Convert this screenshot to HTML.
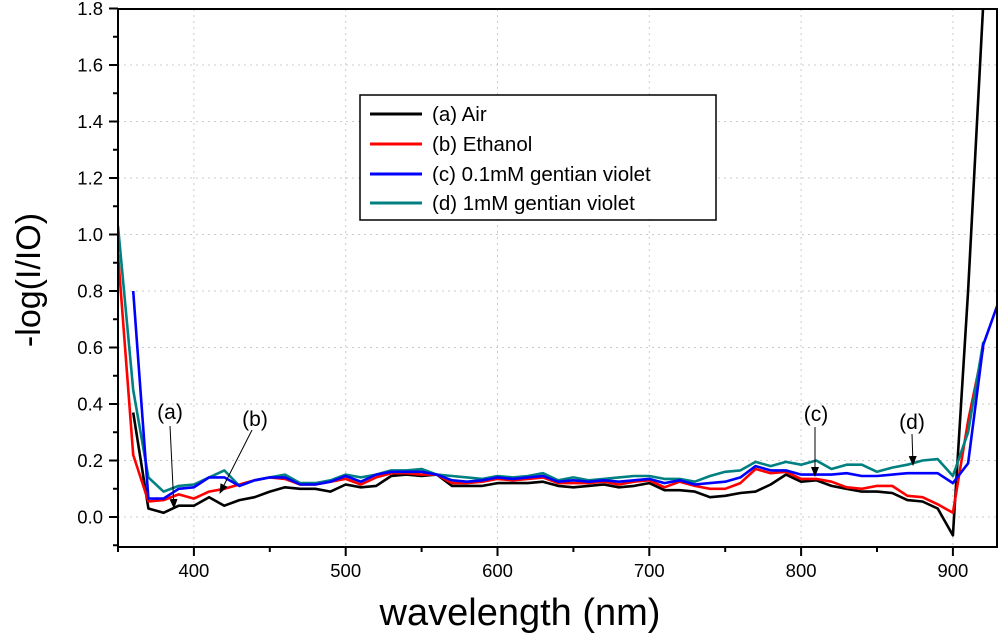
<!DOCTYPE html>
<html><head><meta charset="utf-8"><style>
body{margin:0;background:#fff}
svg{display:block;font-family:"Liberation Sans",Arial,sans-serif}
</style></head><body>
<svg id="chart" width="1000" height="641" viewBox="0 0 1000 641">
<defs><marker id="ah" markerWidth="10" markerHeight="10" refX="9" refY="5" orient="auto" markerUnits="userSpaceOnUse"><path d="M0,1 L10,5 L0,9 z" fill="#000"/></marker></defs>
<g id="grid"></g>
<g id="series"></g>
<g id="axes"></g>
<text x="520" y="625" font-size="38" text-anchor="middle">wavelength (nm)</text>
<text transform="translate(40,280) rotate(-90)" font-size="34" text-anchor="middle">-log(I/IO)</text>
<g>
<rect x="360" y="95" width="356" height="125" fill="#fff" stroke="#000" stroke-width="1.5"/>
<g><line x1="370" y1="114" x2="422" y2="114" stroke="#000" stroke-width="3"/><text x="432" y="121" font-size="20.5">(a) Air</text></g>
<g><line x1="370" y1="144" x2="422" y2="144" stroke="#f00" stroke-width="3"/><text x="432" y="151" font-size="20.5">(b) Ethanol</text></g>
<g><line x1="370" y1="174" x2="422" y2="174" stroke="#00f" stroke-width="3"/><text x="432" y="181" font-size="20.5">(c) 0.1mM gentian violet</text></g>
<g><line x1="370" y1="203" x2="422" y2="203" stroke="#008080" stroke-width="3"/><text x="432" y="210" font-size="20.5">(d) 1mM gentian violet</text></g>
</g>
<g font-size="21" text-anchor="middle">
<text x="170" y="419">(a)</text>
<line x1="170" y1="426" x2="174" y2="508" stroke="#000" stroke-width="1" marker-end="url(#ah)"/>
<text x="255" y="426">(b)</text>
<line x1="252" y1="430" x2="220" y2="493" stroke="#000" stroke-width="1" marker-end="url(#ah)"/>
<text x="816" y="421">(c)</text>
<line x1="815" y1="427" x2="815" y2="476" stroke="#000" stroke-width="1" marker-end="url(#ah)"/>
<text x="912" y="429">(d)</text>
<line x1="912" y1="434" x2="913" y2="465" stroke="#000" stroke-width="1" marker-end="url(#ah)"/>
</g>
</svg>
<script>
const wl = [350,360,370,380,390,400,410,420,430,440,450,460,470,480,490,500,510,520,530,540,550,560,570,580,590,600,610,620,630,640,650,660,670,680,690,700,710,720,730,740,750,760,770,780,790,800,810,820,830,840,850,860,870,880,890,900,910,920,930];
const airVals = [null,0.37,0.03,0.015,0.04,0.04,0.07,0.04,0.06,0.07,0.09,0.105,0.1,0.1,0.09,0.115,0.105,0.11,0.145,0.15,0.145,0.15,0.11,0.11,0.11,0.12,0.12,0.12,0.125,0.11,0.105,0.11,0.115,0.105,0.11,0.12,0.095,0.095,0.09,0.07,0.075,0.085,0.09,0.115,0.15,0.125,0.13,0.11,0.1,0.09,0.09,0.085,0.06,0.055,0.03,-0.065,0.8,1.82,null];
const ethanolVals = [0.93,0.22,0.055,0.06,0.08,0.065,0.09,0.1,0.115,0.13,0.14,0.135,0.115,0.115,0.125,0.135,0.115,0.14,0.155,0.155,0.15,0.15,0.12,0.12,0.125,0.135,0.13,0.135,0.14,0.12,0.12,0.12,0.125,0.115,0.125,0.13,0.105,0.125,0.11,0.1,0.1,0.12,0.17,0.155,0.16,0.135,0.135,0.125,0.105,0.1,0.11,0.11,0.075,0.07,0.045,0.015,0.34,0.6,null];
const gv01Vals = [null,0.8,0.065,0.065,0.1,0.105,0.14,0.14,0.11,0.13,0.14,0.14,0.115,0.115,0.125,0.145,0.125,0.15,0.16,0.16,0.16,0.15,0.13,0.125,0.13,0.14,0.135,0.14,0.145,0.125,0.13,0.125,0.13,0.125,0.13,0.135,0.12,0.13,0.115,0.12,0.125,0.14,0.18,0.165,0.165,0.15,0.15,0.15,0.155,0.145,0.145,0.15,0.155,0.155,0.155,0.12,0.19,0.61,0.76];
const gv1Vals = [1.03,0.45,0.14,0.09,0.11,0.115,0.14,0.165,0.11,0.13,0.14,0.15,0.12,0.12,0.13,0.15,0.14,0.15,0.165,0.165,0.17,0.15,0.145,0.14,0.135,0.145,0.14,0.145,0.155,0.13,0.14,0.13,0.135,0.14,0.145,0.145,0.135,0.135,0.125,0.145,0.16,0.165,0.195,0.18,0.195,0.185,0.2,0.17,0.185,0.185,0.16,0.175,0.185,0.2,0.205,0.145,0.3,0.62,null];
const xTicks = [400,500,600,700,800,900];
const yTicks = [0.0,0.2,0.4,0.6,0.8,1.0,1.2,1.4,1.6,1.8];

const L=118,R=997,T=9,B=547;
const x = v => L + (v-350)*1.518;
const y = v => 517 - v*282.5;
const NS="http://www.w3.org/2000/svg";
function mk(tag, attrs, parent){const e=document.createElementNS(NS,tag);for(const k in attrs)e.setAttribute(k,attrs[k]);parent.appendChild(e);return e;}
const grid=document.getElementById('grid'), axes=document.getElementById('axes'), ser=document.getElementById('series');
const clip=mk('clipPath',{id:'pc'},document.querySelector('defs'));
mk('rect',{x:L,y:T,width:R-L,height:B-T},clip);
xTicks.forEach(t=>{
  const g=mk('line',{x1:x(t),x2:x(t),y1:T,y2:B,stroke:'#ccc','stroke-dasharray':'2,4','stroke-width':1},grid);
  
  
  const tk=mk('line',{x1:x(t),x2:x(t),y1:B,y2:B+9,stroke:'#000','stroke-width':2},axes);
  
  
  const lb=mk('text',{x:x(t),y:B+30,'font-size':18.5,'text-anchor':'middle'},axes);
  lb.textContent=t;
  
  
});
for(let t=350;t<=925;t+=50){ if(t%100===0) continue;
  const m=mk('line',{x1:x(t),x2:x(t),y1:B,y2:B+5,stroke:'#000','stroke-width':2},axes);
  
  
}
yTicks.forEach(t=>{
  const g=mk('line',{x1:L,x2:R,y1:y(t),y2:y(t),stroke:'#ccc','stroke-dasharray':'2,4','stroke-width':1},grid);
  
  
  const tk=mk('line',{x1:L-9,x2:L,y1:y(t),y2:y(t),stroke:'#000','stroke-width':2},axes);
  
  
  const lb=mk('text',{x:L-15,y:y(t)+6.5,'font-size':18.5,'text-anchor':'end'},axes);
  lb.textContent=t.toFixed(1);
  
  
});
for(let t=-0.1;t<1.8;t+=0.2){
  const m=mk('line',{x1:L-5,x2:L,y1:y(t),y2:y(t),stroke:'#000','stroke-width':2},axes);
  
  
}
const frame=mk('rect',{x:L,y:T,width:R-L,height:B-T,fill:'none',stroke:'#000','stroke-width':2},axes);


const sers=[[airVals,'#000','series-air'],[ethanolVals,'#f00','series-ethanol'],[gv1Vals,'#008080','series-1mm-gentian-violet'],[gv01Vals,'#00f','series-0.1mm-gentian-violet']];
sers.forEach(([vals,col,name])=>{
  let d='',pen=false;
  vals.forEach((v,i)=>{ if(v===null){pen=false;return;} d+=(pen?'L':'M')+x(wl[i]).toFixed(1)+','+y(v).toFixed(1)+' '; pen=true;});
  const p=mk('path',{d:d,fill:'none',stroke:col,'stroke-width':2.6,'stroke-linejoin':'round','clip-path':'url(#pc)'},ser);
  
  
});
</script>
</body></html>
